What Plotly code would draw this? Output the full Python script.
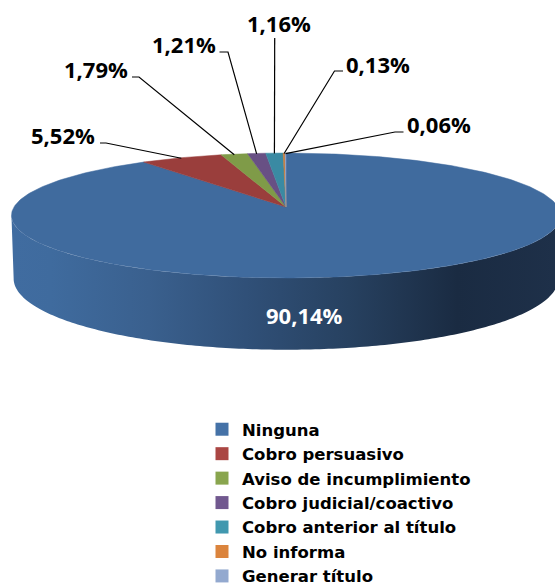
import numpy as np
import plotly.graph_objects as go

categories = ["Ninguna", "Cobro persuasivo", "Aviso de incumplimiento",
              "Cobro judicial/coactivo", "Cobro anterior al título", "No informa", "Generar título"]
values = [90.14, 5.52, 1.79, 1.21, 1.16, 0.13, 0.06]
value_labels = ["90,14%", "5,52%", "1,79%", "1,21%", "1,16%", "0,13%", "0,06%"]
legend_colors = ["#4572A7", "#AA4643", "#89A54E", "#71588F", "#4198AF", "#DB843D", "#93A9CF"]
top_colors = ["#406B9E", "#9A3E3C", "#7F9B48", "#685084", "#3A8AA3", "#C97B38", "#8DA2C6"]

CX, CY, A, B, K, DEPTH = 286.0, 207.0, 272.0, 61.3, 0.136, 62.0


def rim(theta, lower=False):
    s = 1.0 / (1.0 + K * np.cos(theta))
    x = A * np.sin(theta) * s
    y = -B * np.cos(theta) * s
    if lower:
        return CX + x * 0.992, CY + y + DEPTH * s
    return CX + x, CY + y


fig = go.Figure()

# side wall with horizontal shading, between the two tangent points of the rim
edge = np.arccos(-K)
ts = np.linspace(edge, 2 * np.pi - edge, 200)
xt, yt = rim(ts)
xb, yb = rim(ts[::-1], lower=True)
wall_scale = [[0.0, "#406CA0"], [0.07, "#3F6B9E"], [0.25, "#3A608E"], [0.43, "#305078"],
              [0.62, "#274160"], [0.82, "#1A2B42"], [1.0, "#1E3049"]]
fig.add_trace(go.Scatter(x=list(xt) + list(xb), y=list(yt) + list(yb), mode="none",
                         fill="toself",
                         fillgradient=dict(type="horizontal", colorscale=wall_scale, start=13, stop=555),
                         showlegend=False, hoverinfo="skip"))

# top face
total = sum(values)
cum = np.concatenate([[0.0], np.cumsum(values)]) / total * 2 * np.pi
for i in range(len(values)):
    ts = np.linspace(cum[i], cum[i + 1], max(3, int(np.degrees(cum[i + 1] - cum[i])) + 2))
    xs, ys = rim(ts)
    fig.add_trace(go.Scatter(x=[CX] + list(xs) + [CX], y=[CY] + list(ys) + [CY], mode="lines",
                             fill="toself", fillcolor=top_colors[i],
                             line=dict(color=top_colors[i], width=0.5),
                             showlegend=False, hoverinfo="skip"))

# leader lines: elbow next to the label, then down to the middle of the slice rim
elbows = {
    1: [(100, 143), (106, 143)],
    2: [(132, 77), (139, 77)],
    3: [(219.5, 52), (228, 52)],
    4: [(274.7, 38)],
    5: [(343, 71), (334.5, 71)],
    6: [(403.5, 132), (395, 132)],
}
for i, pts in elbows.items():
    mid = (cum[i] + cum[i + 1]) / 2
    ex, ey = rim(mid)
    lx = [p[0] for p in pts] + [float(ex)]
    ly = [p[1] for p in pts] + [float(ey) + 0.5]
    fig.add_trace(go.Scatter(x=lx, y=ly, mode="lines", line=dict(color="#000000", width=1.2),
                             showlegend=False, hoverinfo="skip"))

# legend entries
for name, col in zip(categories, legend_colors):
    fig.add_trace(go.Scatter(x=[None], y=[None], mode="markers", name=name,
                             marker=dict(symbol="square", size=13, color=col)))

label_pos = [(304, 315), (63, 135), (96, 69), (184, 44), (279, 23), (378, 64), (439, 124)]
for i, (txt, (x, y)) in enumerate(zip(value_labels, label_pos)):
    fig.add_annotation(x=x, y=y, text=txt, showarrow=False, xanchor="center", yanchor="middle",
                       font=dict(family="Open Sans", size=22, weight="bold",
                                 color="#FFFFFF" if i == 0 else "#000000"))

fig.update_layout(
    width=555, height=584, margin=dict(l=0, r=0, t=0, b=0, autoexpand=False),
    paper_bgcolor="#FFFFFF", plot_bgcolor="#FFFFFF",
    xaxis=dict(range=[0, 555], visible=False, fixedrange=True),
    yaxis=dict(range=[584, 0], visible=False, fixedrange=True),
    showlegend=True,
    legend=dict(x=202 / 555, xanchor="left", y=1 - 412 / 584, yanchor="top",
                bgcolor="rgba(0,0,0,0)", traceorder="normal",
                font=dict(family="DejaVu Sans", size=16.5, weight="bold", color="#000000")),
)
fig.write_html("out.html", config=dict(displayModeBar=False),
               post_script="document.body.style.margin='0';document.body.style.overflow='hidden';")
